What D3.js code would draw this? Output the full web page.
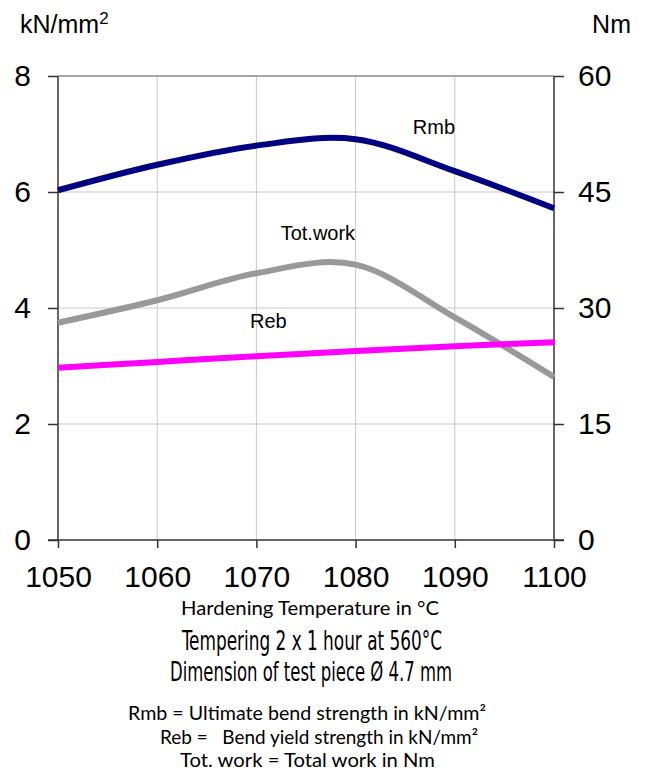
<!DOCTYPE html>
<html>
<head>
<meta charset="utf-8">
<script src="https://cdn.jsdelivr.net/npm/d3@7"></script>
<style>
  body { margin: 0; background: #fff; }
  svg { display: block; }
</style>
</head>
<body>
<div id="viz"></div>
<script>
// hardening temperature vs bend strength / total work

const temps = [1050, 1060, 1070, 1080, 1090, 1100];
const rmb = [6.03, 6.47, 6.8, 6.91, 6.36, 5.72];      // kN/mm2
const reb = [2.97, 3.07, 3.17, 3.26, 3.34, 3.41];     // kN/mm2
const totWork = [28.1, 31.0, 34.5, 35.6, 28.8, 21.1]; // Nm

const xTicks = [1050, 1060, 1070, 1080, 1090, 1100];
const leftTicks = [0, 2, 4, 6, 8];
const rightTicks = [0, 15, 30, 45, 60];

const notes = [
    "Rmb = Ultimate bend strength in kN/mm\u00b2",
    "Reb =   Bend yield strength in kN/mm\u00b2",
    "Tot. work = Total work in Nm"
];

const sans = '"Liberation Sans", Arial, sans-serif';
const cond = '"DejaVu Sans Condensed", "DejaVu Sans", sans-serif';
const light = 'Lato, "Noto Sans", sans-serif';

function drawChart() {
    var dimensions = {
        width: 648,
        height: 778,
        margins: { top: 76, right: 94, bottom: 238, left: 58 }
    };
    dimensions.boundedWidth = dimensions.width - dimensions.margins.left - dimensions.margins.right;
    dimensions.boundedHeight = dimensions.height - dimensions.margins.top - dimensions.margins.bottom;

    const viz = d3.select('#viz').append('svg')
        .attr('width', dimensions.width)
        .attr('height', dimensions.height)
        .style('font-family', sans);

    const bounds = viz.append('g')
        .attr('transform', `translate(${dimensions.margins.left},${dimensions.margins.top})`);

    const x = d3.scaleLinear().domain([1050, 1100]).range([0, dimensions.boundedWidth]);
    const yL = d3.scaleLinear().domain([0, 8]).range([dimensions.boundedHeight, 0]);
    const yR = d3.scaleLinear().domain([0, 60]).range([dimensions.boundedHeight, 0]);

    // grid
    bounds.append('g').selectAll('line')
        .data(xTicks.slice(1, -1))
        .enter().append('line')
            .attr('x1', d => x(d)).attr('x2', d => x(d))
            .attr('y1', 0).attr('y2', dimensions.boundedHeight)
            .style('stroke', '#c8c8c8').style('stroke-width', 1);
    bounds.append('g').selectAll('line')
        .data(leftTicks.slice(1))
        .enter().append('line')
            .attr('x1', 0).attr('x2', dimensions.boundedWidth)
            .attr('y1', d => yL(d)).attr('y2', d => yL(d))
            .style('stroke', d => d === 8 ? '#888' : '#c8c8c8')
            .style('stroke-width', d => d === 8 ? 1.5 : 1);

    // axes
    const axisL = bounds.append('g')
        .call(d3.axisLeft(yL).tickValues(leftTicks).tickSize(10).tickPadding(17));
    const axisR = bounds.append('g')
        .attr('transform', `translate(${dimensions.boundedWidth},0)`)
        .call(d3.axisRight(yR).tickValues(rightTicks).tickSize(10).tickPadding(14));
    const axisB = bounds.append('g')
        .attr('transform', `translate(0,${dimensions.boundedHeight})`)
        .call(d3.axisBottom(x).tickValues(xTicks).tickFormat(d3.format('d')).tickSize(8).tickPadding(18));

    [axisL, axisR, axisB].forEach(a => {
        a.select('.domain').style('stroke', '#333').style('stroke-width', 1.5);
        a.selectAll('.tick line').style('stroke', '#333').style('stroke-width', 1.5);
        a.selectAll('text')
            .style('font-family', sans)
            .style('font-size', '30px')
            .style('fill', '#000');
    });
    axisL.select('.domain').attr('d', `M0,0V${dimensions.boundedHeight}`);
    axisR.select('.domain').attr('d', `M0,0V${dimensions.boundedHeight}`);
    axisB.select('.domain').attr('d', `M-10,0H${dimensions.boundedWidth + 10}`);

    // curves
    const lineL = d3.line().x((d, i) => x(temps[i])).y(d => yL(d)).curve(d3.curveCardinal.tension(0));
    const lineR = d3.line().x((d, i) => x(temps[i])).y(d => yR(d)).curve(d3.curveCardinal.tension(0));

    const series = [
        { values: totWork, gen: lineR, color: '#999999' },
        { values: reb, gen: lineL, color: '#ff00ff' },
        { values: rmb, gen: lineL, color: '#000080' }
    ];

    bounds.append('g').selectAll('path')
        .data(series)
        .enter().append('path')
            .attr('d', d => d.gen(d.values))
            .attr('fill', 'none')
            .style('stroke', d => d.color)
            .style('stroke-width', 6);

    // series labels
    const labels = [
        { text: 'Rmb', t: 1087.9, v: 7.0 },
        { text: 'Tot.work', t: 1076.2, v: 5.17 },
        { text: 'Reb', t: 1071.2, v: 3.65 }
    ];
    bounds.append('g').selectAll('text')
        .data(labels)
        .enter().append('text')
            .attr('x', d => x(d.t))
            .attr('y', d => yL(d.v))
            .attr('text-anchor', 'middle')
            .style('font-size', '20px')
            .text(d => d.text);

    // unit titles
    const t1 = viz.append('text')
        .attr('x', 20).attr('y', 33)
        .style('font-size', '25px');
    t1.append('tspan').text('kN/mm');
    t1.append('tspan').attr('dy', -9).style('font-size', '17px').text('2');
    viz.append('text')
        .attr('x', 631).attr('y', 33)
        .attr('text-anchor', 'end')
        .style('font-size', '25px')
        .text('Nm');

    // captions, squeezed to the original widths
    const captions = [
        { text: 'Hardening Temperature in \u00b0C', x: 181, y: 615, size: 19, len: 258, font: light },
        { text: 'Tempering 2 x 1 hour at 560\u00b0C', x: 182, y: 650, size: 26, len: 260, font: cond },
        { text: 'Dimension of test piece \u00d8 4.7 mm', x: 170, y: 681, size: 26, len: 282, font: cond }
    ];
    viz.append('g').selectAll('text')
        .data(captions)
        .enter().append('text')
            .attr('x', d => d.x)
            .attr('y', d => d.y)
            .attr('textLength', d => d.len)
            .attr('lengthAdjust', 'spacingAndGlyphs')
            .style('font-family', d => d.font)
            .style('font-size', d => d.size + 'px')
            .text(d => d.text);

    const noteX = [128, 160, 180];
    const noteLen = [358, 318, 255];
    viz.append('g').selectAll('text')
        .data(notes)
        .enter().append('text')
            .attr('x', (d, i) => noteX[i])
            .attr('y', (d, i) => 720 + i * 23.5)
            .attr('textLength', (d, i) => noteLen[i])
            .attr('lengthAdjust', 'spacingAndGlyphs')
            .attr('xml:space', 'preserve')
            .style('font-family', light)
            .style('font-size', '19px')
            .style('white-space', 'pre')
            .text(d => d);
}

drawChart();
</script>
</body>
</html>
